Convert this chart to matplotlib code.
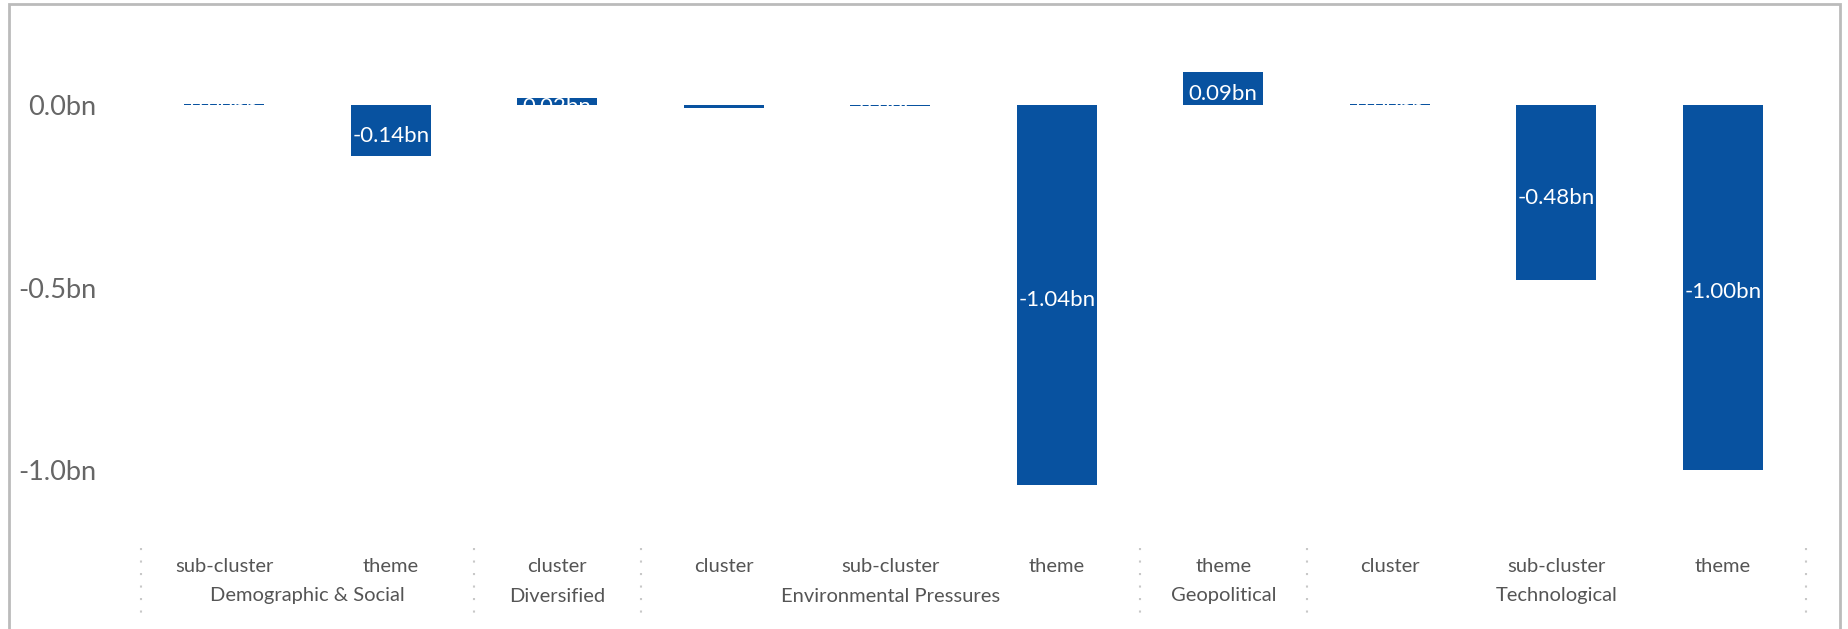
import matplotlib
matplotlib.use("Agg")
import matplotlib.pyplot as plt
from matplotlib.patches import Rectangle
import matplotlib.transforms as mtransforms

plt.rcParams['font.family'] = ['Lato', 'DejaVu Sans']

# categories, two levels
levels = ["sub-cluster", "theme", "cluster", "cluster", "sub-cluster", "theme",
          "theme", "cluster", "sub-cluster", "theme"]
groups = ["Demographic & Social", "Diversified", "Environmental Pressures",
          "Geopolitical", "Technological"]
group_sizes = [2, 1, 3, 1, 3]

# values in bn
values = [0.004, -0.14, 0.018, -0.008, -0.004, -1.04, 0.09, 0.004, -0.48, -1.00]
labels = ["0.00bn", "-0.14bn", "0.02bn", None, "-0.00bn", "-1.04bn",
          "0.09bn", "0.00bn", "-0.48bn", "-1.00bn"]

yticks = [0.0, -0.5, -1.0]
ytick_labels = ["0.0bn", "-0.5bn", "-1.0bn"]

W, H = 1848, 629
fig = plt.figure(figsize=(W / 100, H / 100), dpi=100)

ymin, ymax = -1.15, 0.2
zero_px, unit_px = 105, 365
top_px = zero_px - ymax * unit_px
bot_px = zero_px - ymin * unit_px
ax = fig.add_axes([141 / W, 1 - bot_px / H, (1806 - 141) / W, (bot_px - top_px) / H])

blue = '#0852a0'
x = list(range(len(values)))
bars = ax.bar(x, values, width=0.48, color=blue)
ax.set_xlim(-0.5, len(values) - 0.5)
ax.set_ylim(ymin, ymax)

# value labels, clipped to the bar, nudged down a little
lab_trans = mtransforms.offset_copy(ax.transData, fig=fig, x=0, y=-5, units='dots')
for b, lab in zip(bars, labels):
    if lab is None:
        continue
    cx = b.get_x() + b.get_width() / 2
    cy = b.get_y() + b.get_height() / 2
    t = ax.text(cx, cy, lab, ha='center', va='center', color='white',
                fontsize=16, transform=lab_trans)
    t.set_clip_path(b)

ax.set_yticks(yticks)
ax.set_yticklabels(ytick_labels)
ax.tick_params(axis='y', length=0, pad=32, labelsize=19.5, labelcolor='#666666')
ax.set_xticks([])
for s in ax.spines.values():
    s.set_visible(False)

# category labels and group separators below the axes
trans = mtransforms.blended_transform_factory(ax.transData, fig.transFigure)
row1 = 1 - 567 / H
row2 = 1 - 596 / H
for i, lev in enumerate(levels):
    ax.text(i, row1, lev, transform=trans, ha='center', va='center',
            fontsize=14.5, color='#555555')
start = -0.5
bounds = [start]
for g, n in zip(groups, group_sizes):
    ax.text(start + n / 2, row2, g, transform=trans, ha='center', va='center',
            fontsize=14.5, color='#555555')
    start += n
    bounds.append(start)
for bx in bounds:
    ax.plot([bx, bx], [1 - 548 / H, 1 - 616 / H], transform=trans, clip_on=False,
            color='#c8c8c8', linewidth=1.5, linestyle=(0, (1, 5)))

# outer frame
fig.patches.append(Rectangle((8.5 / W, -0.05), (1840 - 8.5) / W, 1.05 - 3.5 / H,
                             transform=fig.transFigure, fill=False,
                             edgecolor='#bbbbbb', linewidth=2))

fig.savefig("out.png", dpi=100)
